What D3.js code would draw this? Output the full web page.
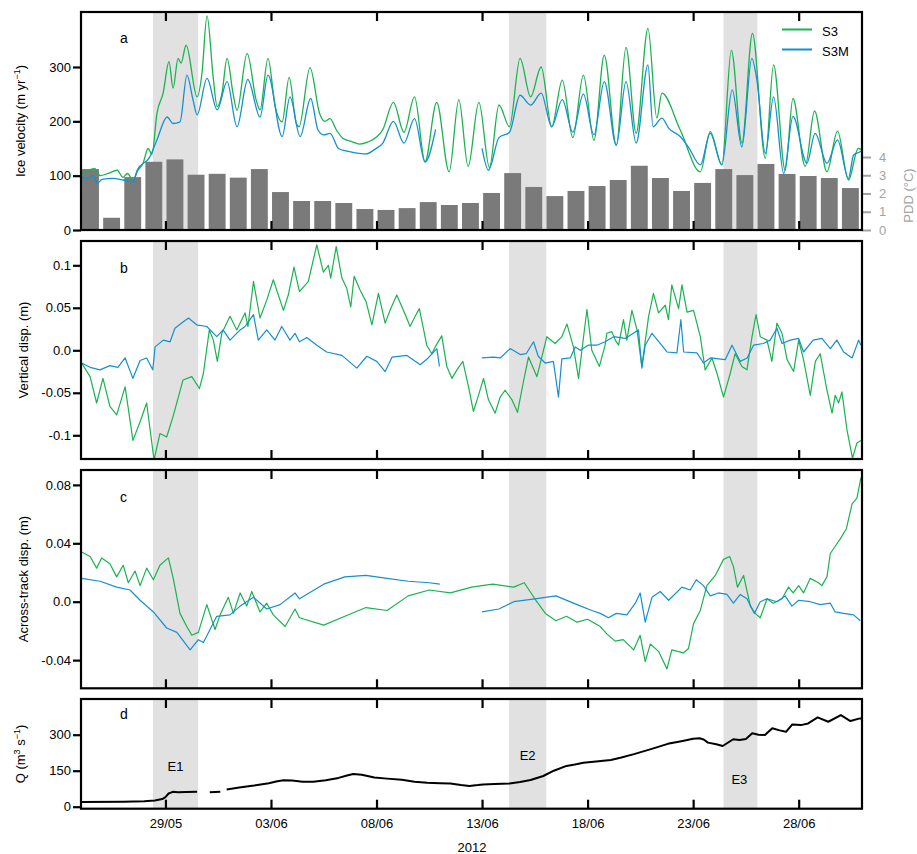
<!DOCTYPE html>
<html><head><meta charset="utf-8">
<script src="https://cdn.jsdelivr.net/npm/d3@7"></script>
<style>body{margin:0;background:#fff;} text{font-family:"Liberation Sans",Arial,Helvetica,sans-serif;}</style>
</head><body><svg id="chart" width="917" height="854"></svg>
<script>
// ---------- DATA (day offsets from 25/05/2012 00:00) ----------
const startDate = new Date(2012, 4, 25);
const endDate = new Date(2012, 6, 1);
const tickDates = [new Date(2012,4,29), new Date(2012,5,3), new Date(2012,5,8), new Date(2012,5,13), new Date(2012,5,18), new Date(2012,5,23), new Date(2012,5,28)];
const xAxisTitle = "2012";
const seriesNames = ["S3", "S3M"];
const eventNames = ["E1", "E2", "E3"];
const eventStart = [3.41, 20.28, 30.44];
const eventEnd = [5.55, 22.04, 32.04];

// daily positive degree days (°C), one per day from 25/05
const pddValues = [3.34,0.67,2.9,3.74,3.87,3.03,3.08,2.87,3.34,2.08,1.59,1.59,1.48,1.15,1.1,1.2,1.53,1.37,1.48,2.03,3.12,2.36,1.86,2.14,2.41,2.74,3.52,2.85,2.14,2.58,3.34,3.01,3.62,3.07,2.96,2.85,2.3];

// ice velocity (m/yr)
const velS3 = [[0,104],[0.66,113],[0.9,100],[1.28,104],[1.71,110],[1.99,97],[2.2,104],[2.46,92],[2.7,110],[2.94,123],[3.18,150],[3.36,139],[3.6,215],[3.89,252],[4.17,310],[4.36,261],[4.6,316],[4.74,307],[4.98,340],[5.5,245],[5.73,288],[5.97,394],[6.26,282],[6.45,227],[6.68,252],[6.92,316],[7.2,252],[7.39,220],[7.87,325],[8.3,239],[8.48,221],[8.86,316],[9.2,227],[9.53,199],[9.86,281],[10.2,196],[10.33,190],[10.85,299],[11.3,215],[11.55,200],[11.8,205],[12.1,184],[12.4,169],[12.8,163],[13.2,158],[13.6,162],[14.0,171],[14.3,185],[14.8,235],[15.3,180],[15.8,245],[16.3,126],[16.85,235],[17.44,107],[17.9,240],[18.34,117],[18.85,235],[19.35,115],[19.8,230],[20.3,190],[20.8,316],[21.3,245],[21.8,300],[22.3,190],[22.8,276],[23.3,170],[23.8,285],[24.3,165],[24.79,322],[25.36,156],[25.82,336],[26.3,178],[26.86,371],[27.28,206],[27.52,252],[28.39,184],[29.34,107],[29.81,181],[30.36,120],[30.81,331],[31.31,160],[31.81,362],[32.42,132],[32.81,304],[33.36,110],[33.73,242],[34.31,117],[34.75,219],[35.34,107],[35.84,182],[36.36,92],[36.82,150],[37,148]];
const velS3M = [[0,98],[0.3,95],[0.6,100],[0.76,86],[1.0,93],[1.5,95],[2.0,92],[2.46,88],[2.66,110],[3.27,135],[3.6,166],[4.08,208],[4.36,196],[4.69,199],[5.02,285],[5.31,239],[5.5,212],[5.97,279],[6.45,221],[6.92,273],[7.39,190],[7.9,277],[8.48,208],[8.86,285],[9.53,172],[9.9,245],[10.38,172],[10.88,242],[11.23,184],[11.5,175],[11.8,178],[12.2,150],[12.6,145],[13.0,142],[13.5,140],[13.9,148],[14.3,160],[14.8,200],[15.3,160],[15.8,205],[16.3,125],[16.8,185],null,[19.0,150],[19.3,110],[19.8,170],[20.3,180],[20.8,248],[21.3,230],[21.8,252],[22.3,190],[22.8,240],[23.3,180],[23.8,250],[24.3,175],[24.79,273],[25.36,156],[25.82,273],[26.3,160],[26.86,304],[27.1,190],[27.52,206],[27.85,187],[28.39,172],[28.77,153],[29.34,120],[29.81,178],[30.36,120],[30.85,258],[31.31,153],[31.78,316],[32.02,276],[32.42,141],[32.81,245],[33.29,104],[33.73,209],[34.39,123],[34.78,178],[35.34,123],[35.84,166],[36.36,95],[36.6,138],[36.92,144],[37,146]];

// vertical displacement (m)
const vertS3 = [[0.03,-0.015],[0.43,-0.031],[0.74,-0.062],[1.04,-0.033],[1.37,-0.066],[1.69,-0.076],[2.09,-0.043],[2.46,-0.106],[2.8,-0.084],[3.11,-0.062],[3.46,-0.129],[3.74,-0.098],[4.06,-0.102],[4.36,-0.078],[4.83,-0.035],[5.25,-0.031],[5.61,-0.045],[5.8,-0.027],[6.08,0.024],[6.27,0.012],[6.46,-0.013],[6.67,0.020],[7.06,0.040],[7.38,0.024],[7.77,0.044],[7.91,0.028],[8.17,0.081],[8.48,0.038],[8.8,0.059],[9.11,0.083],[9.59,0.047],[9.82,0.065],[10.09,0.098],[10.35,0.069],[10.77,0.081],[11.17,0.124],[11.48,0.092],[11.72,0.100],[11.83,0.085],[12.09,0.122],[12.36,0.085],[12.59,0.073],[12.78,0.051],[12.94,0.087],[13.22,0.071],[13.51,0.057],[13.78,0.030],[14.09,0.067],[14.41,0.032],[14.64,0.047],[14.96,0.065],[15.36,0.042],[15.59,0.028],[15.83,0.040],[16.03,0.049],[16.38,0.006],[16.62,-0.004],[16.78,0.004],[17.09,0.017],[17.33,-0.019],[17.57,-0.033],[17.81,-0.023],[18.09,-0.013],[18.36,-0.043],[18.59,-0.072],[18.83,-0.053],[19.07,-0.033],[19.3,-0.058],[19.62,-0.074],[19.86,-0.055],[20.09,-0.047],[20.41,-0.058],[20.68,-0.073],[20.96,-0.037],[21.2,-0.008],[21.6,-0.031],[21.83,-0.008],[22.07,0.016],[22.46,0.008],[22.78,0.016],[23.02,0.031],[23.33,0.004],[23.57,-0.033],[23.73,0.000],[23.97,0.048],[24.2,0.000],[24.56,-0.019],[24.83,0.006],[24.91,0.020],[25.15,0.022],[25.31,0.012],[25.47,0.006],[25.7,0.036],[25.86,0.012],[26.1,0.047],[26.34,0.024],[26.57,-0.019],[26.89,0.040],[27.12,0.067],[27.36,0.044],[27.68,0.053],[27.83,0.036],[27.99,0.077],[28.31,0.049],[28.47,0.077],[28.71,0.045],[29.02,0.047],[29.34,0.016],[29.57,-0.023],[29.89,-0.009],[30.13,-0.027],[30.44,-0.055],[30.76,-0.027],[30.99,-0.004],[31.31,-0.019],[31.55,-0.023],[31.79,0.016],[31.98,0.042],[32.18,0.016],[32.5,0.012],[32.73,-0.013],[32.97,0.032],[33.21,0.020],[33.45,-0.011],[33.76,-0.025],[34.0,0.012],[34.23,-0.011],[34.55,-0.053],[34.79,-0.013],[35.02,-0.004],[35.34,-0.047],[35.58,-0.074],[35.73,-0.053],[35.89,-0.062],[36.05,-0.049],[36.29,-0.094],[36.55,-0.127],[36.76,-0.109],[36.95,-0.106]];
const vertS3M = [[0.03,-0.015],[0.43,-0.020],[0.9,-0.023],[1.37,-0.018],[1.75,-0.020],[2.09,-0.009],[2.46,-0.033],[2.8,-0.012],[3.11,-0.009],[3.4,-0.023],[3.51,0.004],[3.9,0.012],[4.22,0.010],[4.45,0.026],[4.77,0.032],[5.09,0.038],[5.48,0.030],[5.96,0.028],[6.43,0.016],[6.73,0.024],[7.06,0.012],[7.54,0.024],[7.77,0.028],[8.17,0.042],[8.4,0.012],[8.8,0.024],[9.19,0.012],[9.51,0.028],[9.9,0.012],[10.14,0.020],[10.35,0.010],[10.7,0.015],[11.17,0.006],[11.64,-0.002],[12.36,-0.006],[13.07,-0.021],[13.54,-0.007],[14.01,-0.013],[14.41,-0.025],[14.74,-0.008],[15.44,-0.006],[16.07,-0.017],[16.45,-0.009],[16.86,0.002],[16.98,-0.019],null,[18.99,-0.009],[19.54,-0.008],[19.86,-0.009],[20.33,0.002],[20.81,-0.005],[21.09,-0.004],[21.44,0.010],[21.66,-0.007],[21.99,-0.015],[22.38,-0.013],[22.62,-0.055],[22.78,-0.010],[23.18,-0.009],[23.41,0.004],[23.65,0.000],[24.03,0.006],[24.44,0.006],[24.83,0.010],[25.23,0.016],[25.78,0.014],[26.41,0.024],[26.57,-0.021],[26.73,0.006],[27.05,0.020],[27.44,0.008],[27.76,-0.002],[28.23,-0.003],[28.42,0.036],[28.55,-0.002],[29.18,-0.003],[29.49,-0.015],[29.81,-0.009],[30.52,-0.011],[30.84,0.006],[31.23,-0.013],[31.56,-0.009],[31.86,0.006],[32.32,0.008],[32.65,0.012],[32.97,0.026],[33.21,0.008],[33.6,0.012],[34.0,0.014],[34.23,-0.002],[34.69,0.012],[35.1,0.014],[35.5,0.002],[35.81,0.012],[36.13,-0.002],[36.53,-0.009],[36.84,0.012],[36.95,0.006]];

// across-track displacement (m)
const acrossS3 = [[0.03,0.034],[0.43,0.031],[0.74,0.023],[0.98,0.030],[1.37,0.026],[1.69,0.017],[2.0,0.025],[2.24,0.013],[2.56,0.021],[2.8,0.011],[3.11,0.023],[3.43,0.015],[3.74,0.025],[4.14,0.030],[4.37,0.016],[4.69,-0.008],[5.01,-0.017],[5.25,-0.023],[5.56,-0.021],[5.96,-0.002],[6.35,-0.019],[6.59,-0.009],[6.98,0.003],[7.22,-0.008],[7.54,0.006],[7.85,-0.003],[8.09,0.007],[8.48,-0.007],[8.8,-0.001],[9.11,-0.009],[9.67,-0.017],[10.14,-0.005],[10.35,-0.011],[11.5,-0.016],[12.5,-0.010],[13.5,-0.004],[14.5,-0.006],[15.5,0.004],[16.5,0.008],[17.5,0.006],[18.5,0.010],[19.5,0.012],[20.5,0.010],[21.0,0.013],[21.5,0.002],[22.0,-0.008],[22.5,-0.013],[23.0,-0.010],[23.5,-0.014],[24.0,-0.012],[24.6,-0.017],[24.91,-0.022],[25.31,-0.027],[25.69,-0.026],[26.18,-0.033],[26.49,-0.023],[26.73,-0.041],[26.97,-0.029],[27.36,-0.034],[27.76,-0.046],[27.99,-0.033],[28.55,-0.035],[28.78,-0.032],[29.02,-0.015],[29.34,-0.006],[29.65,0.011],[30.05,0.018],[30.44,0.029],[30.73,0.031],[30.91,0.024],[31.1,0.010],[31.39,0.018],[31.71,-0.003],[31.94,-0.008],[32.18,-0.011],[32.5,0.002],[32.8,-0.001],[33.21,0.002],[33.52,0.010],[33.74,0.006],[34.0,0.011],[34.23,0.006],[34.55,0.016],[34.94,0.013],[35.1,0.011],[35.34,0.017],[35.5,0.033],[35.73,0.038],[35.97,0.043],[36.26,0.050],[36.53,0.067],[36.76,0.071],[36.95,0.085]];
const acrossS3M = [[0.03,0.016],[0.9,0.014],[1.69,0.010],[2.32,0.008],[2.8,0.001],[3.43,-0.007],[4.06,-0.018],[4.54,-0.021],[5.17,-0.033],[5.56,-0.026],[5.8,-0.028],[6.43,-0.010],[7.06,-0.009],[7.54,-0.003],[8.17,0.003],[8.8,-0.005],[9.43,-0.002],[10.14,0.006],[10.35,0.002],[11.5,0.012],[12.5,0.017],[13.5,0.018],[14.5,0.016],[15.5,0.014],[16.5,0.013],[17.0,0.012],null,[19.0,-0.007],[19.8,-0.005],[20.5,0.000],[21.5,0.002],[22.5,0.004],[23.5,-0.002],[24.2,-0.006],[24.6,-0.008],[24.99,-0.011],[25.36,-0.008],[25.86,-0.009],[26.26,-0.001],[26.49,0.006],[26.73,-0.014],[27.05,0.003],[27.44,0.007],[27.84,0.001],[28.47,0.010],[28.86,0.008],[29.15,0.015],[29.49,0.011],[29.81,0.004],[30.2,0.006],[30.6,0.005],[30.91,-0.001],[31.23,0.005],[31.55,0.002],[31.9,-0.008],[32.18,0.000],[32.5,0.002],[32.97,0.000],[33.36,0.004],[33.68,-0.003],[34.0,0.001],[34.55,0.000],[35.02,-0.002],[35.5,-0.001],[35.73,-0.007],[36.13,-0.008],[36.6,-0.009],[36.92,-0.013]];

// discharge Q (m3/s)
const discharge = [[0,20],[2,21],[3,23],[3.5,26],[3.85,32],[4.0,40],[4.15,55],[4.35,62],[4.6,60],[5.0,61],[5.5,62],null,[6.1,60],[6.6,62],null,[6.9,72],[7.5,80],[8.2,88],[8.9,98],[9.3,106],[9.6,110],[10.0,109],[10.5,104],[11.0,104],[11.6,110],[12.2,120],[12.6,130],[12.9,136],[13.3,133],[13.9,122],[14.5,117],[15.2,112],[15.8,104],[16.4,100],[17.0,98],[17.5,97],[18.0,90],[18.4,86],[18.8,90],[19.05,93],[19.6,95],[20.3,97],[20.8,103],[21.3,111],[21.9,128],[22.4,150],[23.0,170],[23.4,176],[23.8,183],[24.4,188],[25.1,195],[25.6,205],[26.2,219],[27.0,240],[27.8,262],[28.5,274],[29.0,283],[29.3,285],[29.5,280],[29.7,267],[30.1,260],[30.4,253],[30.9,281],[31.2,278],[31.5,282],[31.8,306],[32.1,300],[32.4,299],[32.75,327],[33.1,318],[33.4,312],[33.7,343],[34.1,340],[34.45,347],[34.9,372],[35.4,354],[36.0,382],[36.45,357],[36.9,368],[37,366]];

// axis tick values / labels
const velTicks = [0,100,200,300];
const pddTicks = [0,1,2,3,4];
const vertTicks = [-0.1,-0.05,0,0.05,0.1];
const vertTickLabels = ["-0.1","-0.05","0.0","0.05","0.1"];
const acrossTicks = [-0.04,0,0.04,0.08];
const acrossTickLabels = ["-0.04","0.0","0.04","0.08"];
const qTicks = [0,150,300];

// ---------- DRAWING ----------
const GREEN = "#19b350", BLUE = "#1590cf", SHADE = "#e1e1e1", BAR = "#7a7a7a", GREY = "#a3a3a3";
const svg = d3.select("#chart");
const X0 = 81, X1 = 862;
const x = d3.scaleTime().domain([startDate, endDate]).range([X0, X1]);
const toDate = d => new Date(startDate.getTime() + d * 864e5);

const panels = [
  {id:"a", top:12, bottom:230, domain:[0,401.2], ticks:velTicks, labels:velTicks.map(String), letterY:43},
  {id:"b", top:241, bottom:459, domain:[-0.1279,0.1286], ticks:vertTicks, labels:vertTickLabels, letterY:273},
  {id:"c", top:470, bottom:688.3, domain:[-0.0593,0.0902], ticks:acrossTicks, labels:acrossTickLabels, letterY:502},
  {id:"d", top:699, bottom:808.7, domain:[-8.3,448.8], ticks:qTicks, labels:qTicks.map(String), letterY:719}
];
panels.forEach(p => { p.y = d3.scaleLinear().domain(p.domain).range([p.bottom, p.top]); });

const defs = svg.append("defs");
panels.forEach(p => {
  defs.append("clipPath").attr("id","clip-"+p.id).append("rect")
    .attr("x",X0).attr("y",p.top).attr("width",X1-X0).attr("height",p.bottom-p.top);
});

function drawLine(g, p, data, color, width, curve){
  const line = d3.line().defined(d => d !== null)
    .x(d => x(toDate(d[0]))).y(d => p.y(d[1])).curve(curve || d3.curveLinear);
  g.append("path").datum(data).attr("d", line).attr("fill","none")
    .attr("stroke", color).attr("stroke-width", width).attr("stroke-linejoin","round")
    .attr("clip-path","url(#clip-"+p.id+")");
}

panels.forEach((p, pi) => {
  const g = svg.append("g");
  eventStart.forEach((s, i) => {
    g.append("rect").attr("x", x(toDate(s))).attr("y", p.top)
      .attr("width", x(toDate(eventEnd[i])) - x(toDate(s))).attr("height", p.bottom - p.top)
      .attr("fill", SHADE);
  });

  if (p.id === "a") {
    const pddY = d3.scaleLinear().domain([0, 11.95]).range([p.bottom, p.top]);
    g.selectAll("rect.bar").data(pddValues).enter().append("rect").attr("class","bar")
      .attr("x", (d,i) => x(toDate(i + 0.05)))
      .attr("width", (d,i) => x(toDate(i + 0.85)) - x(toDate(i + 0.05)))
      .attr("y", d => pddY(d)).attr("height", d => p.bottom - pddY(d))
      .attr("fill", BAR);
    drawLine(g, p, velS3, GREEN, 1.3, d3.curveMonotoneX);
    drawLine(g, p, velS3M, BLUE, 1.3, d3.curveMonotoneX);
    const ra = g.append("g").attr("transform", `translate(${X1},0)`)
      .call(d3.axisRight(pddY).tickValues(pddTicks).tickSize(9).tickPadding(8));
    ra.select(".domain").remove();
    ra.selectAll("line").attr("stroke", GREY).attr("stroke-width", 2);
    ra.selectAll("text").attr("fill", GREY).style("font-size","13px");
    g.append("text").attr("transform", `translate(913,${(pddY(0)+pddY(4))/2 + 2}) rotate(-90)`)
      .attr("text-anchor","middle").attr("fill", GREY).style("font-size","13px").text("PDD (°C)");
    [GREEN, BLUE].forEach((c, i) => {
      g.append("line").attr("x1",782).attr("x2",812).attr("y1",29.5+i*20).attr("y2",29.5+i*20)
        .attr("stroke", c).attr("stroke-width", 2);
      g.append("text").attr("x",822).attr("y",35.5+i*20).style("font-size","13px").text(seriesNames[i]);
    });
  } else if (p.id === "b") {
    drawLine(g, p, vertS3, GREEN, 1.2);
    drawLine(g, p, vertS3M, BLUE, 1.2);
  } else if (p.id === "c") {
    drawLine(g, p, acrossS3, GREEN, 1.2);
    drawLine(g, p, acrossS3M, BLUE, 1.2);
  } else {
    drawLine(g, p, discharge, "#000", 2);
    eventNames.forEach((n, i) => {
      const ly = [771, 760, 784][i];
      g.append("text").attr("x", x(toDate((eventStart[i]+eventEnd[i])/2)) + [0,0,-1][i]).attr("y", ly)
        .attr("text-anchor","middle").style("font-size","13px").text(n);
    });
  }

  g.append("rect").attr("x",X0).attr("y",p.top).attr("width",X1-X0).attr("height",p.bottom-p.top)
    .attr("fill","none").attr("stroke","#000").attr("stroke-width",2.2);

  const fmt = d3.timeFormat("%d/%m");
  const bt = g.append("g").attr("transform",`translate(0,${p.bottom})`)
    .call(d3.axisBottom(x).tickValues(tickDates).tickSize(-9).tickPadding(10).tickFormat(pi === 3 ? fmt : ""));
  bt.select(".domain").remove();
  bt.selectAll("line").attr("stroke","#000").attr("stroke-width",2.2);
  bt.selectAll("text").style("font-size","13px").attr("fill","#000");
  const tt = g.append("g").attr("transform",`translate(0,${p.top})`)
    .call(d3.axisTop(x).tickValues(tickDates).tickSize(-9).tickFormat(""));
  tt.select(".domain").remove();
  tt.selectAll("line").attr("stroke","#000").attr("stroke-width",2.2);

  const ya = g.append("g").attr("transform",`translate(${X0},0)`)
    .call(d3.axisLeft(p.y).tickValues(p.ticks).tickSize(8).tickPadding(2).tickFormat((d,i) => p.labels[i]));
  ya.select(".domain").remove();
  ya.selectAll("line").attr("stroke","#000").attr("stroke-width",2.2);
  ya.selectAll("text").style("font-size","13px").attr("fill","#000");

  g.append("text").attr("x",120).attr("y",p.letterY).style("font-size","14px").text(p.id);
});

function yTitle(cx, cy, parts){
  const t = svg.append("text").attr("transform",`translate(${cx},${cy}) rotate(-90)`)
    .attr("text-anchor","middle").style("font-size","13px");
  parts.forEach(pt => {
    const s = t.append("tspan").text(pt.t);
    if (pt.sup) s.attr("dy", -5).style("font-size","9px");
    if (pt.after) s.attr("dy", 5);
  });
}
yTitle(25, 121, [{t:"Ice velocity (m yr"},{t:"−1",sup:true},{t:")",after:true}]);
yTitle(28, 350, [{t:"Vertical disp. (m)"}]);
yTitle(28, 579, [{t:"Across-track disp. (m)"}]);
yTitle(25, 754, [{t:"Q (m"},{t:"3",sup:true},{t:" s",after:true},{t:"−1",sup:true},{t:")",after:true}]);

svg.append("text").attr("x",472).attr("y",852).attr("text-anchor","middle").style("font-size","13px").text(xAxisTitle);
</script>
</body></html>
